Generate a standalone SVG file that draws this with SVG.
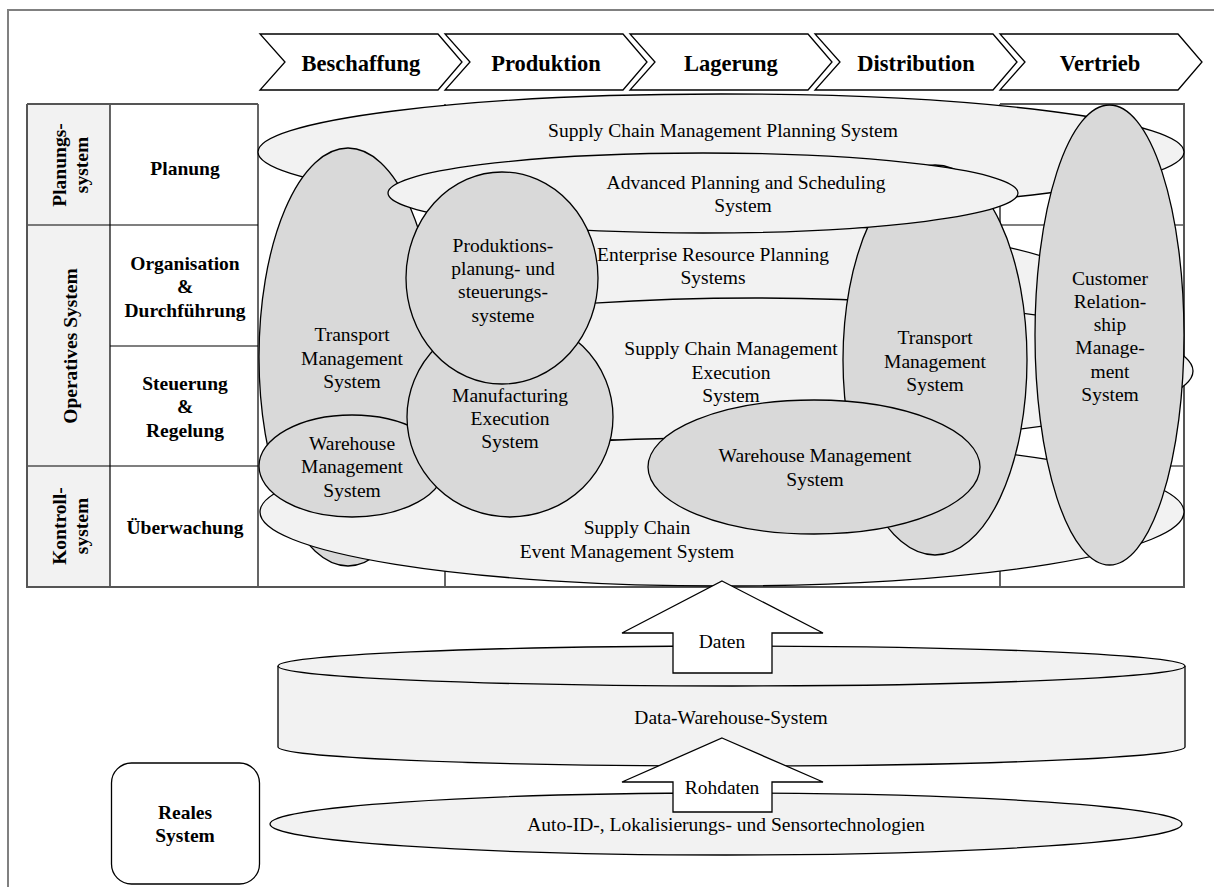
<svg xmlns="http://www.w3.org/2000/svg" width="1214" height="887" viewBox="0 0 1214 887">
  <style>
    .lt { fill: #f2f2f2; stroke: #000; stroke-width: 1.3; }
    .dk { fill: #d9d9d9; stroke: #000; stroke-width: 1.3; }
    .wt { fill: #fff; stroke: #000; stroke-width: 1.3; }
    .ln { stroke: #000; stroke-width: 1.2; fill: none; }
    .ol { stroke: #555; stroke-width: 2; fill: none; }
    .t { font-family: "Liberation Serif", "Times New Roman", serif; font-size: 19.5px; text-anchor: middle; fill: #000; }
    .b { font-weight: bold; }
    .h { font-size: 22.5px; font-weight: bold; }
  </style>

  <!-- page frame -->
  <path d="M8,887 V10 H1214" fill="none" stroke="#808080" stroke-width="2"/>

  <!-- process chain -->
  <g id="chain">
    <polygon class="wt" points="260,34 438,34 462,62 438,90 260,90 285,62"/>
    <polygon class="wt" points="445,34 623,34 647,62 623,90 445,90 470,62"/>
    <polygon class="wt" points="630,34 808,34 832,62 808,90 630,90 655,62"/>
    <polygon class="wt" points="815,34 993,34 1017,62 993,90 815,90 840,62"/>
    <polygon class="wt" points="1000,34 1178,34 1202,62 1178,90 1000,90 1025,62"/>
    <text class="t h" x="361" y="71">Beschaffung</text>
    <text class="t h" x="546" y="71">Produktion</text>
    <text class="t h" x="731" y="71">Lagerung</text>
    <text class="t h" x="916" y="71">Distribution</text>
    <text class="t h" x="1100" y="71">Vertrieb</text>
  </g>

  <!-- layer table -->
  <g id="table">
    <rect x="27" y="104" width="83" height="483" fill="#f2f2f2"/>
    <path class="ln" d="M110,104 V587 M258,104 V587 M27,225 H258 M110,346 H258 M27,466 H258"/>
    <path class="ln" d="M445,104 V587 M1000,104 V587 M1000,225 H1184 M1000,466 H1184"/>
    <path class="ol" d="M27,104 H258 M1000,104 H1184 V587 H27 V104"/>
    <text class="t b" transform="translate(0,165) rotate(-90)"><tspan x="0" y="66">Planungs-</tspan><tspan x="0" y="88">system</tspan></text>
    <text class="t b" transform="translate(0,346) rotate(-90)" x="0" y="77">Operatives System</text>
    <text class="t b" transform="translate(0,526) rotate(-90)"><tspan x="0" y="66">Kontroll-</tspan><tspan x="0" y="88">system</tspan></text>
    <text class="t b" x="185" y="175">Planung</text>
    <text class="t b"><tspan x="185" y="270">Organisation</tspan><tspan x="185" y="293">&amp;</tspan><tspan x="185" y="317">Durchführung</tspan></text>
    <text class="t b"><tspan x="185" y="390">Steuerung</tspan><tspan x="185" y="413">&amp;</tspan><tspan x="185" y="437">Regelung</tspan></text>
    <text class="t b" x="185" y="534">Überwachung</text>
  </g>

  <!-- system ellipses, back to front -->
  <g id="scm-planning">
    <ellipse class="lt" cx="721" cy="152" rx="463" ry="58"/>
    <text class="t" x="723" y="137">Supply Chain Management Planning System</text>
  </g>
  <g id="erp">
    <ellipse class="lt" cx="714" cy="290" rx="378" ry="68"/>
  </g>
  <g id="scm-execution">
    <ellipse class="lt" cx="755" cy="371" rx="438" ry="73"/>
  </g>
  <g id="tms-left">
    <ellipse class="dk" cx="348" cy="357" rx="89" ry="209"/>
    <text class="t"><tspan x="352" y="341">Transport</tspan><tspan x="352" y="365">Management</tspan><tspan x="352" y="388">System</tspan></text>
  </g>
  <g id="scem">
    <ellipse class="lt" cx="722" cy="512" rx="462" ry="74"/>
    <text class="t"><tspan x="637" y="534">Supply Chain</tspan><tspan x="627" y="558">Event Management System</tspan></text>
  </g>
  <g id="erp-label">
    <text class="t"><tspan x="713" y="261">Enterprise Resource Planning</tspan><tspan x="713" y="284">Systems</tspan></text>
  </g>
  <g id="scm-execution-label">
    <text class="t"><tspan x="731" y="355">Supply Chain Management</tspan><tspan x="731" y="379">Execution</tspan><tspan x="731" y="402">System</tspan></text>
  </g>
  <g id="tms-right">
    <ellipse class="dk" cx="935" cy="360" rx="92" ry="195"/>
    <text class="t"><tspan x="935" y="344">Transport</tspan><tspan x="935" y="368">Management</tspan><tspan x="935" y="391">System</tspan></text>
  </g>
  <g id="aps">
    <ellipse class="lt" cx="703" cy="193" rx="315" ry="40"/>
    <text class="t"><tspan x="746" y="189">Advanced Planning and Scheduling</tspan><tspan x="743" y="212">System</tspan></text>
  </g>
  <g id="crm">
    <ellipse class="dk" cx="1109.5" cy="335" rx="74.5" ry="230"/>
    <text class="t"><tspan x="1110" y="285">Customer</tspan><tspan x="1110" y="308">Relation-</tspan><tspan x="1110" y="331">ship</tspan><tspan x="1110" y="354">Manage-</tspan><tspan x="1110" y="378">ment</tspan><tspan x="1110" y="401">System</tspan></text>
  </g>
  <g id="wms-left">
    <ellipse class="dk" cx="352" cy="466" rx="93" ry="51"/>
    <text class="t"><tspan x="352" y="450">Warehouse</tspan><tspan x="352" y="473">Management</tspan><tspan x="352" y="497">System</tspan></text>
  </g>
  <g id="mes">
    <ellipse class="dk" cx="510" cy="417" rx="103" ry="100"/>
    <text class="t"><tspan x="510" y="402">Manufacturing</tspan><tspan x="510" y="425">Execution</tspan><tspan x="510" y="448">System</tspan></text>
  </g>
  <g id="pps">
    <ellipse class="dk" cx="502" cy="278" rx="96" ry="106"/>
    <text class="t"><tspan x="503" y="252">Produktions-</tspan><tspan x="503" y="275">planung- und</tspan><tspan x="503" y="298">steuerungs-</tspan><tspan x="503" y="322">systeme</tspan></text>
  </g>
  <g id="wms-right">
    <ellipse class="dk" cx="814" cy="467" rx="166" ry="67"/>
    <text class="t"><tspan x="815" y="462">Warehouse Management</tspan><tspan x="815" y="486">System</tspan></text>
  </g>

  <!-- data layers -->
  <g id="data-warehouse">
    <path class="lt" d="M278,666 V747 A453.5,19 0 0 0 1185,747 V666"/>
    <ellipse class="lt" cx="731.5" cy="666" rx="453.5" ry="20"/>
    <text class="t" x="731" y="724">Data-Warehouse-System</text>
  </g>
  <g id="auto-id">
    <ellipse class="lt" cx="726" cy="824" rx="456" ry="31"/>
    <text class="t" x="726" y="831">Auto-ID-, Lokalisierungs- und Sensortechnologien</text>
  </g>
  <g id="reales-system">
    <rect class="wt" x="111.5" y="763" width="148" height="121" rx="20"/>
    <text class="t b"><tspan x="185" y="819">Reales</tspan><tspan x="185" y="842">System</tspan></text>
  </g>

  <!-- flow arrows -->
  <g id="connectors">
    <g id="arrow-daten">
      <polygon class="wt" points="722,581 823,633 772,633 772,673 673,673 673,633 622,633"/>
      <text class="t" x="722" y="648">Daten</text>
    </g>
    <g id="arrow-rohdaten">
      <polygon class="wt" points="722,738 823,782 772,782 772,812 673,812 673,782 622,782"/>
      <text class="t" x="722" y="794">Rohdaten</text>
    </g>
  </g>
</svg>
